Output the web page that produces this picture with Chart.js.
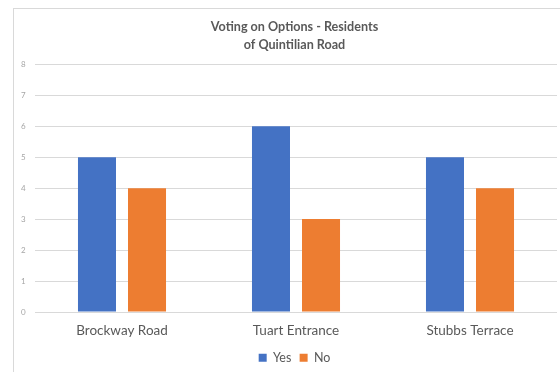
<!DOCTYPE html>
<html>
<head>
<meta charset="utf-8">
<script src="https://cdn.jsdelivr.net/npm/chart.js@4"></script>
<style>
  body { margin: 0; background: #fff; overflow: hidden; }
  #frame {
    position: absolute;
    left: 13px;
    top: 8px;
    width: 600px;
    height: 400px;
    border-left: 1px solid #d9d9d9;
    border-top: 1px solid #d9d9d9;
  }
  #box { position: relative; width: 546px; height: 365px; }
</style>
</head>
<body>
<div id="frame">
  <div id="box"><canvas id="votes"></canvas></div>
</div>
<script>
const streets = ["Brockway Road", "Tuart Entrance", "Stubbs Terrace"];
const yesVotes = [5, 6, 5];
const noVotes = [4, 3, 4];
const titleLines = ["Voting on Options - Residents", "of Quintilian Road"];

const grey = "#595959";
const fontFamily = "Lato, 'Open Sans', sans-serif";

// default legend items, with a little room between them
function spacedLabels(chart) {
  const items = Chart.defaults.plugins.legend.labels.generateLabels(chart);
  return items.map((item, i) => ({
    ...item,
    text: i < items.length - 1 ? item.text + "\u2002" : item.text,
  }));
}

document.addEventListener("DOMContentLoaded", () => {
  const ctx = document.getElementById("votes").getContext("2d");

  new Chart(ctx, {
    type: "bar",
    data: {
      labels: streets,
      datasets: [
        {
          label: "Yes",
          data: yesVotes,
          backgroundColor: "#4472C4",
          categoryPercentage: 0.575,
          barPercentage: 0.76,
        },
        {
          label: "No",
          data: noVotes,
          backgroundColor: "#ED7D31",
          categoryPercentage: 0.575,
          barPercentage: 0.76,
        },
      ],
    },
    options: {
      responsive: true,
      maintainAspectRatio: false,
      animation: false,
      layout: {
        padding: { left: 18, right: 3, top: 4, bottom: 0 },
      },
      plugins: {
        title: {
          display: true,
          text: titleLines,
          color: grey,
          font: { family: fontFamily, size: 12.6, weight: "bold", lineHeight: 1.4 },
          padding: { top: 5, bottom: 11 },
        },
        legend: {
          position: "bottom",
          labels: {
            boxWidth: 8,
            boxHeight: 8,
            color: grey,
            font: { family: fontFamily, size: 12.5 },
            padding: 2,
            generateLabels: spacedLabels,
          },
        },
        tooltip: { enabled: false },
      },
      scales: {
        x: {
          grid: { display: false, drawTicks: false },
          border: { display: false },
          ticks: {
            color: grey,
            font: { family: fontFamily, size: 13.5, lineHeight: 1 },
            padding: 12,
          },
        },
        y: {
          min: 0,
          max: 8,
          // narrow axis box; mirrored labels pulled back out to its left
          afterFit: (scale) => {
            scale.width = 3;
          },
          grid: { color: "#d9d9d9", drawTicks: false },
          border: { display: false },
          ticks: {
            stepSize: 1,
            mirror: true,
            padding: -14,
            color: "#a6a6a6",
            font: { family: fontFamily, size: 8 },
          },
        },
      },
    },
  });
});
</script>
</body>
</html>
